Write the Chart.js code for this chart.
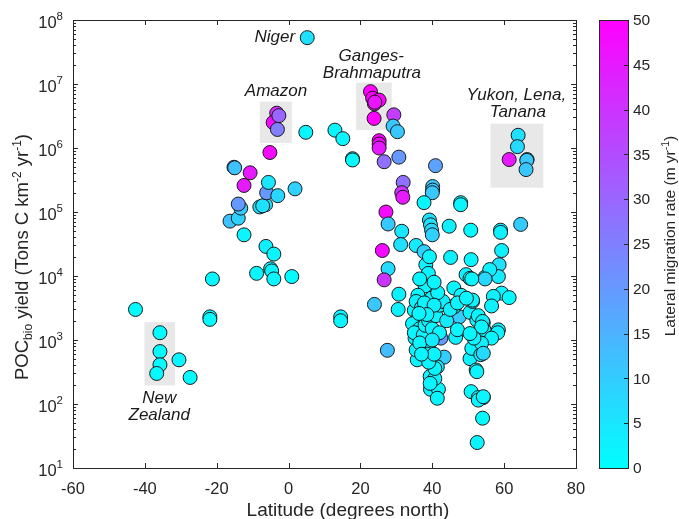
<!DOCTYPE html>
<html>
<head>
<meta charset="utf-8">
<title>POC yield vs latitude</title>
<script src="https://cdn.jsdelivr.net/npm/chart.js@4/dist/chart.umd.min.js"></script>
<style>
  html, body { margin: 0; padding: 0; background: #fff; }
  canvas { display: block; }
</style>
</head>
<body>
<canvas id="pocChart" width="679" height="519"></canvas>
<script>
// river catchments: latitude (deg N), POCbio yield (t C km-2 yr-1), lateral migration rate (m yr-1)
const latitude = [
  -42.6, -35.8, -35.8, -35.8, -36.7, -30.5, -27.4, -21.9, -21.9, -21.2,
  -8.9, -5.0, -4.7, -4.1, 0.9, -6.3, -4.1, -12.4, -16.3, -14.0,
  -13.3, -14.0, -8.0, -6.4, -7.2, -6.1, -3.0, -5.6, 1.8, -12.4,
  -10.7, -15.2, -15.0, -5.2, -3.3, -4.3, -2.7, -3.1, 4.8, 5.2,
  12.9, 15.1, 17.8, 17.8, 22.8, 23.4, 23.9, 25.2, 24.0, 23.8,
  29.3, 29.1, 30.3, 25.2, 25.2, 25.2, 26.6, 30.7, 40.9, 31.9,
  31.5, 31.8, 40.1, 40.1, 40.0, 37.7, 47.9, 47.9, 27.1, 27.7,
  31.5, 31.2, 26.1, 35.5, 37.7, 39.2, 39.5, 39.8, 40.0, 44.7,
  50.7, 45.1, 50.8, 27.7, 26.6, 30.7, 30.5, 23.9, 14.5, 14.5,
  27.5, 38.2, 38.9, 38.0, 39.8, 49.4, 50.5, 54.7, 35.0, 36.1,
  39.8, 44.7, 47.5, 46.1, 50.5, 51.2, 42.4, 43.3, 41.4, 39.5,
  41.7, 41.4, 35.8, 35.5, 35.2, 38.9, 39.4, 40.7, 40.7, 50.8,
  52.8, 54.2, 54.0, 52.5, 50.5, 52.2, 51.0, 53.5, 54.4, 52.4,
  64.6, 59.0, 59.0, 59.3, 58.6, 58.4, 56.0, 54.7, 51.0, 59.3,
  61.4, 57.0, 56.5, 51.2, 52.8, 54.2, 58.4, 54.0, 58.2, 56.5,
  53.7, 54.2, 52.4, 52.8, 54.2, 63.9, 63.7, 61.4, 66.4, 66.3,
  66.1, 36.0, 35.5, 37.0, 34.5, 36.5, 35.0, 37.5, 36.5, 38.0,
  39.0, 40.0, 41.0, 42.0, 43.0, 41.5, 40.5, 42.0, 40.0, 38.5,
  39.0, 40.5, 37.0, 44.0, 45.0, 37.8, 40.5, 38.5, 36.3, 39.2,
  36.5, 46.0, 48.0, 47.0, 46.5, 47.0, 39.4, 49.5, 53.7, 51.6,
  50.5
];

const pocYield = [
  3000, 1300, 660, 410, 300, 490, 260, 2300, 2100, 9000,
  11000, 13000, 12000, 9000, 9800, 29000, 22000, 44000, 72000, 80000,
  115000, 133000, 120000, 130000, 125000, 200000, 180000, 290000, 230000, 260000,
  410000, 500000, 490000, 850000, 3500000, 2500000, 3200000, 1950000, 1760000, 53000000,
  1900000, 1400000, 680000, 650000, 7600000, 6000000, 4900000, 5600000, 5200000, 2900000,
  3300000, 2200000, 1800000, 1300000, 1150000, 1000000, 610000, 720000, 530000, 290000,
  200000, 170000, 250000, 220000, 200000, 140000, 140000, 130000, 100000, 65000,
  50000, 31000, 25000, 30000, 24000, 75000, 63000, 52000, 44000, 60000,
  52000, 19500, 18000, 13000, 8700, 5200, 3000, 3600, 2300, 2000,
  690, 15000, 11000, 7000, 4500, 10500, 9200, 9600, 2900, 2200,
  2700, 3300, 2300, 3300, 2700, 4000, 1070, 540, 380, 170,
  170, 123, 490, 700, 1070, 790, 270, 250, 360, 156,
  126, 126, 60, 25, 510, 340, 740, 590, 1450, 2050,
  64000, 52000, 48000, 25000, 15000, 9800, 12600, 9000, 9000, 5400,
  4600, 4800, 3400, 4200, 2400, 1860, 1440, 1950, 1300, 1070,
  890, 620, 320, 115, 130, 1580000, 1050000, 660000, 660000, 640000,
  460000, 5000, 4000, 3200, 1800, 1500, 1300, 1200, 900, 1700,
  2000, 1500, 2400, 3500, 4000, 5500, 8000, 1300, 1000, 600,
  450, 600, 600, 2000, 3000, 3800, 3500, 2500, 2600, 20000,
  9000, 6500, 5000, 3800, 1100, 1450, 210, 4500, 1600, 1070,
  1260
];

const migrationRate = [
  1, 1, 1, 1, 1, 2, 1, 1, 1, 2,
  2, 3, 2, 2, 1, 3, 2, 2, 12, 9,
  10, 20, 6, 5, 6, 20, 8, 5, 9, 45,
  45, 25, 12, 48, 42, 48, 30, 25, 2, 6,
  2, 2, 1, 1, 50, 50, 48, 50, 46, 50,
  38, 11, 11, 50, 48, 45, 28, 20, 18, 28,
  40, 45, 11, 11, 11, 2, 2, 2, 48, 11,
  5, 6, 48, 4, 9, 6, 6, 7, 9, 3,
  1, 3, 2, 7, 40, 3, 3, 11, 2, 2,
  13, 2, 2, 2, 2, 2, 2, 2, 2, 3,
  2, 18, 10, 3, 2, 2, 20, 10, 3, 2,
  2, 2, 2, 2, 2, 3, 2, 2, 2, 1,
  2, 2, 1, 2, 2, 2, 2, 3, 2, 2,
  10, 3, 3, 3, 6, 4, 3, 8, 2, 2,
  1, 3, 3, 2, 2, 3, 2, 3, 2, 2,
  3, 7, 2, 2, 2, 6, 7, 45, 11, 11,
  11, 2, 3, 2, 2, 3, 2, 2, 2, 2,
  3, 2, 2, 2, 3, 2, 2, 2, 4, 2,
  2, 2, 2, 4, 3, 2, 3, 2, 2, 2,
  2, 2, 2, 2, 3, 2, 2, 2, 2, 2,
  2
];

const xTicks = [-60, -40, -20, 0, 20, 40, 60, 80];
const yExponents = [1, 2, 3, 4, 5, 6, 7, 8];
const rateTicks = [0, 5, 10, 15, 20, 25, 30, 35, 40, 45, 50];
const rateMax = 50;

// shaded groups, in data units: [lat0, lat1], [yield0, yield1]
const highlightBoxes = [
  { lat: [-40.1, -31.6], poc: [195, 1900] },
  { lat: [-8.0, 0.9], poc: [1.2e6, 5.3e6] },
  { lat: [18.8, 28.7], poc: [1.9e6, 1.05e7] },
  { lat: [56.2, 70.9], poc: [2.4e5, 2.4e6] }
];

// river names, anchored in data units
const riverLabels = [
  { text: 'Niger', lat: 1.8, poc: 5.4e7, align: 'right' },
  { text: 'Amazon', lat: -3.5, poc: 7.7e6, align: 'center' },
  { text: 'Ganges-', lat: 23.0, poc: 2.7e7, align: 'center' },
  { text: 'Brahmaputra', lat: 23.2, poc: 1.45e7, align: 'center' },
  { text: 'Yukon, Lena,', lat: 63.4, poc: 6.6e6, align: 'center' },
  { text: 'Tanana', lat: 63.8, poc: 3.6e6, align: 'center' },
  { text: 'New', lat: -36.0, poc: 125, align: 'center' },
  { text: 'Zealand', lat: -36.0, poc: 66, align: 'center' }
];

const FONT = '"Liberation Sans", Arial, Helvetica, sans-serif';
const INK = '#262626';

function coolColor(rate) {
  const t = Math.max(0, Math.min(1, rate / rateMax));
  return `rgb(${Math.round(255 * t)}, ${Math.round(255 * (1 - t))}, 255)`;
}

function font(size, style) {
  return `${style || ''} ${size}px ${FONT}`;
}

// text made of runs [text, size, baselineShift]
function drawRuns(ctx, runs, x, y, align) {
  let total = 0;
  runs.forEach(r => { ctx.font = font(r[1]); total += ctx.measureText(r[0]).width; });
  let cx = align === 'center' ? x - total / 2 : align === 'right' ? x - total : x;
  ctx.textAlign = 'left';
  runs.forEach(r => {
    ctx.font = font(r[1]);
    ctx.fillText(r[0], cx, y + (r[2] || 0));
    cx += ctx.measureText(r[0]).width;
  });
}

const points = latitude.map((lat, i) => ({ x: lat, y: pocYield[i] }));
const colors = migrationRate.map(coolColor);

const decor = {
  id: 'decor',
  beforeDatasetsDraw(chart) {
    const { ctx, scales: { x, y } } = chart;
    ctx.save();
    ctx.fillStyle = '#e8e8e8';
    highlightBoxes.forEach(b => {
      const x0 = x.getPixelForValue(b.lat[0]);
      const x1 = x.getPixelForValue(b.lat[1]);
      const y0 = y.getPixelForValue(b.poc[1]);
      const y1 = y.getPixelForValue(b.poc[0]);
      ctx.fillRect(x0, y0, x1 - x0, y1 - y0);
    });
    ctx.restore();
  },
  afterDraw(chart) {
    const { ctx, chartArea: a, scales: { x, y } } = chart;
    ctx.save();
    ctx.strokeStyle = INK;
    ctx.fillStyle = INK;
    ctx.lineWidth = 1;

    // axes box
    ctx.strokeRect(Math.round(a.left) + 0.5, Math.round(a.top) + 0.5,
      Math.round(a.right - a.left), Math.round(a.bottom - a.top));

    // inward ticks
    ctx.beginPath();
    xTicks.forEach(v => {
      const px = Math.round(x.getPixelForValue(v)) + 0.5;
      ctx.moveTo(px, a.bottom); ctx.lineTo(px, a.bottom - 5);
      ctx.moveTo(px, a.top); ctx.lineTo(px, a.top + 5);
    });
    yExponents.forEach(e => {
      for (let k = 1; k <= 9; k++) {
        const v = k * Math.pow(10, e);
        if (v > 1e8) break;
        const py = Math.round(y.getPixelForValue(v)) + 0.5;
        const len = k === 1 ? 5 : 3;
        ctx.moveTo(a.left, py); ctx.lineTo(a.left + len, py);
        ctx.moveTo(a.right, py); ctx.lineTo(a.right - len, py);
      }
    });
    ctx.stroke();

    // tick labels
    ctx.textBaseline = 'alphabetic';
    ctx.font = font(16.5);
    ctx.textAlign = 'center';
    xTicks.forEach(v => ctx.fillText(String(v), x.getPixelForValue(v), 494));
    yExponents.forEach(e => {
      const py = y.getPixelForValue(Math.pow(10, e));
      drawRuns(ctx, [['10', 16.5], [String(e), 11.5, -7.5]], 63, py + 7.5, 'right');
    });

    // axis titles
    ctx.font = font(19);
    ctx.textAlign = 'center';
    ctx.fillText('Latitude (degrees north)', 348, 516);

    ctx.save();
    ctx.translate(28, 257);
    ctx.rotate(-Math.PI / 2);
    drawRuns(ctx, [['POC', 18.5], ['bio', 12, 4], [' yield (Tons C km', 18.5],
      ['-2', 12, -7.5], [' yr', 18.5], ['-1', 12, -7.5], [')', 18.5]], 0, 0, 'center');
    ctx.restore();

    // river labels
    ctx.fillStyle = '#1a1a1a';
    ctx.font = font(17, 'italic');
    riverLabels.forEach(l => {
      ctx.textAlign = l.align;
      ctx.textBaseline = 'middle';
      ctx.fillText(l.text, x.getPixelForValue(l.lat), y.getPixelForValue(l.poc));
    });

    // colorbar
    const cbL = 599, cbR = 628, cbT = a.top, cbB = a.bottom;
    const grad = ctx.createLinearGradient(0, cbB, 0, cbT);
    grad.addColorStop(0, coolColor(0));
    grad.addColorStop(1, coolColor(rateMax));
    ctx.fillStyle = grad;
    ctx.fillRect(cbL, cbT, cbR - cbL, cbB - cbT);
    ctx.strokeStyle = INK;
    ctx.strokeRect(cbL + 0.5, Math.round(cbT) + 0.5, cbR - cbL, Math.round(cbB - cbT));
    ctx.fillStyle = INK;
    ctx.font = font(15.5);
    ctx.textAlign = 'left';
    ctx.textBaseline = 'middle';
    ctx.beginPath();
    rateTicks.forEach(v => {
      const py = cbB - (v / rateMax) * (cbB - cbT);
      ctx.moveTo(cbR, Math.round(py) + 0.5); ctx.lineTo(cbR - 4, Math.round(py) + 0.5);
      ctx.fillText(String(v), 633, py + 1);
    });
    ctx.stroke();

    ctx.save();
    ctx.translate(675, 236);
    ctx.rotate(-Math.PI / 2);
    ctx.textBaseline = 'alphabetic';
    drawRuns(ctx, [['Lateral migration rate (m yr', 15.5], ['-1', 10.5, -6.5], [')', 15.5]], 0, 0, 'center');
    ctx.restore();

    ctx.restore();
  }
};

new Chart(document.getElementById('pocChart').getContext('2d'), {
  type: 'scatter',
  data: {
    datasets: [{
      data: points,
      pointRadius: 7,
      pointHoverRadius: 7,
      pointBackgroundColor: colors,
      pointBorderColor: '#1a1a1a',
      pointBorderWidth: 1
    }]
  },
  options: {
    responsive: false,
    animation: false,
    events: [],
    layout: { padding: { left: 0, top: 20, right: 103, bottom: 0 } },
    plugins: { legend: { display: false }, tooltip: { enabled: false } },
    scales: {
      x: {
        type: 'linear', min: -60, max: 80,
        grid: { display: false }, border: { display: false },
        ticks: { display: false },
        afterFit: s => { s.height = 51; }
      },
      y: {
        type: 'logarithmic', min: 10, max: 1e8,
        grid: { display: false }, border: { display: false },
        ticks: { display: false },
        afterFit: s => { s.width = 73; }
      }
    }
  },
  plugins: [decor]
});
</script>
</body>
</html>
